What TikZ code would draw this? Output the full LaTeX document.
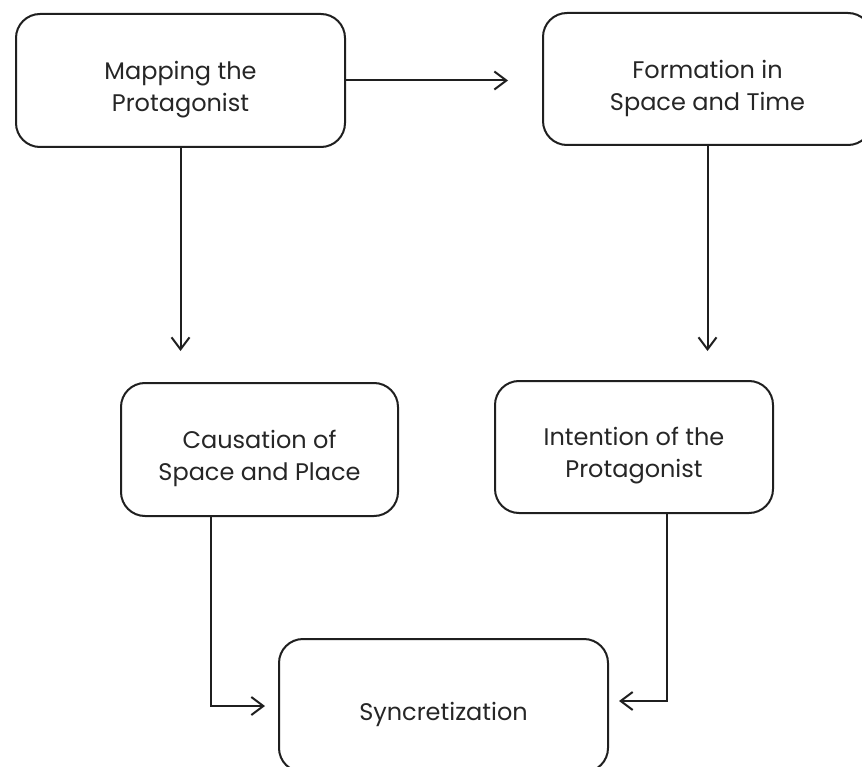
\documentclass[tikz,border=0pt]{standalone}
\usepackage{fontspec}
\setmainfont{Poppins}
\usetikzlibrary{arrows.meta}
\begin{document}
\begin{tikzpicture}[x=1pt,y=-1pt,
  stage/.style={draw=black!88, line width=2pt, rounded corners=24pt,
    fill=white, inner sep=0pt},
  caption/.style={font=\fontsize{24}{32}\selectfont, text=black!85,
    align=center, inner sep=0pt, yshift=-9pt},
  flow/.style={draw=black!88, line width=2pt,
    -{Straight Barb[length=12pt,width=18pt]}}]
  \useasboundingbox (0,0) rectangle (862,767);

  % stages of the process
  \node[stage, minimum width=329pt, minimum height=133pt,
    label={[caption]center:Mapping the\\Protagonist}] (map) at (180.5,80.5) {};
  \node[stage, minimum width=329pt, minimum height=132pt,
    label={[caption]center:Formation in\\Space and Time}] (form) at (707.5,79) {};
  \node[stage, minimum width=277pt, minimum height=133pt,
    label={[caption]center:Causation of\\Space and Place}] (cause) at (259.5,449.5) {};
  \node[stage, minimum width=278pt, minimum height=132pt,
    label={[caption]center:Intention of the\\Protagonist}] (intent) at (634,447) {};
  \node[stage, minimum width=329pt, minimum height=133pt,
    label={[caption]center:Syncretization}] (sync) at (443.5,705.5) {};

  % connectors
  \draw[flow, shorten >=34pt] (map.east) -- (map.east -| form.west);
  \draw[flow, shorten >=31pt] (map.south) -- (map.south |- cause.north);
  \draw[flow, shorten >=29pt] (form.south) -- (form.south |- intent.north);
  \draw[flow, shorten >=13pt] ([xshift=-48.5pt]cause.south) |- ([yshift=-0.5pt]sync.west);
  \draw[flow, shorten >=10pt] ([xshift=33pt]intent.south) |- ([yshift=4.5pt]sync.east);
\end{tikzpicture}
\end{document}
